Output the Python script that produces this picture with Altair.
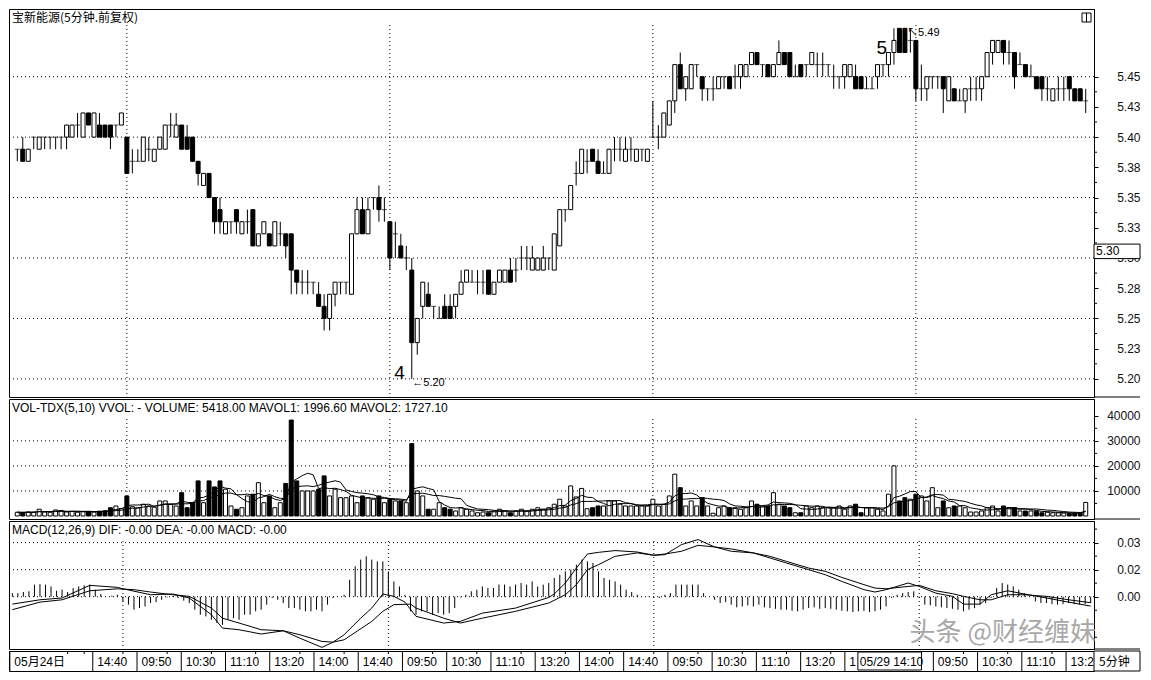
import altair as alt
import pandas as pd

# ---------------- data ----------------
opens = [
    5.39, 5.39, 5.38, 5.40, 5.39, 5.40, 5.40, 5.40, 5.40, 5.40,
    5.40, 5.41, 5.40, 5.42, 5.40, 5.41, 5.41, 5.41, 5.41, 5.41,
    5.40, 5.38, 5.38, 5.38, 5.39, 5.38, 5.39, 5.39, 5.41, 5.40,
    5.41, 5.40, 5.40, 5.38, 5.36, 5.37, 5.35, 5.34, 5.32, 5.33,
    5.34, 5.32, 5.33, 5.34, 5.31, 5.32, 5.32, 5.31, 5.32, 5.32,
    5.32, 5.29, 5.28, 5.28, 5.28, 5.27, 5.26, 5.25, 5.27, 5.28,
    5.28, 5.27, 5.32, 5.34, 5.32, 5.35, 5.35, 5.34, 5.33, 5.32,
    5.31, 5.30, 5.29, 5.23, 5.26, 5.27, 5.26, 5.25, 5.26, 5.26,
    5.26, 5.27, 5.28, 5.28, 5.28, 5.28, 5.29, 5.27, 5.28, 5.28,
    5.29, 5.29, 5.30, 5.30, 5.29, 5.29, 5.29, 5.30, 5.29, 5.31,
    5.34, 5.34, 5.37, 5.37, 5.38, 5.39, 5.38, 5.37, 5.37, 5.39,
    5.39, 5.38, 5.39, 5.38, 5.39, 5.38, 5.40, 5.40, 5.40, 5.41,
    5.43, 5.46, 5.44, 5.44, 5.46, 5.45, 5.44, 5.44, 5.44, 5.45,
    5.45, 5.45, 5.45, 5.45, 5.46, 5.47, 5.46, 5.46, 5.45, 5.46,
    5.47, 5.47, 5.45, 5.46, 5.46, 5.46, 5.46, 5.46, 5.46, 5.45,
    5.45, 5.45, 5.45, 5.45, 5.45, 5.44, 5.44, 5.45, 5.46, 5.46,
    5.47, 5.49, 5.49, 5.48, 5.48, 5.44, 5.44, 5.45, 5.45, 5.45,
    5.43, 5.44, 5.43, 5.43, 5.44, 5.44, 5.44, 5.45, 5.47, 5.47,
    5.48, 5.47, 5.47, 5.46, 5.46, 5.45, 5.45, 5.45, 5.44, 5.43,
    5.44, 5.44, 5.45, 5.44, 5.44, 5.43,
]
highs = [
    5.39, 5.40, 5.39, 5.40, 5.40, 5.40, 5.40, 5.40, 5.40, 5.41,
    5.41, 5.42, 5.42, 5.42, 5.42, 5.42, 5.41, 5.41, 5.41, 5.42,
    5.40, 5.39, 5.39, 5.40, 5.40, 5.39, 5.40, 5.41, 5.42, 5.42,
    5.41, 5.41, 5.40, 5.38, 5.37, 5.37, 5.35, 5.35, 5.33, 5.33,
    5.34, 5.33, 5.34, 5.34, 5.32, 5.33, 5.32, 5.33, 5.33, 5.32,
    5.32, 5.29, 5.29, 5.29, 5.28, 5.28, 5.27, 5.27, 5.28, 5.28,
    5.28, 5.32, 5.35, 5.35, 5.35, 5.35, 5.36, 5.35, 5.33, 5.33,
    5.32, 5.31, 5.30, 5.25, 5.28, 5.28, 5.26, 5.26, 5.27, 5.27,
    5.27, 5.29, 5.29, 5.29, 5.29, 5.29, 5.29, 5.28, 5.29, 5.29,
    5.30, 5.30, 5.31, 5.31, 5.31, 5.30, 5.31, 5.30, 5.32, 5.34,
    5.34, 5.36, 5.38, 5.39, 5.39, 5.39, 5.39, 5.38, 5.39, 5.40,
    5.40, 5.40, 5.40, 5.39, 5.39, 5.39, 5.43, 5.41, 5.42, 5.43,
    5.46, 5.47, 5.45, 5.46, 5.46, 5.45, 5.44, 5.45, 5.45, 5.45,
    5.45, 5.46, 5.46, 5.46, 5.47, 5.47, 5.46, 5.46, 5.46, 5.48,
    5.47, 5.47, 5.46, 5.46, 5.46, 5.47, 5.47, 5.47, 5.46, 5.46,
    5.45, 5.46, 5.46, 5.46, 5.45, 5.45, 5.45, 5.46, 5.46, 5.47,
    5.49, 5.49, 5.49, 5.49, 5.48, 5.46, 5.45, 5.45, 5.45, 5.45,
    5.45, 5.44, 5.44, 5.44, 5.45, 5.45, 5.45, 5.47, 5.48, 5.48,
    5.48, 5.48, 5.47, 5.47, 5.46, 5.46, 5.45, 5.45, 5.45, 5.44,
    5.45, 5.45, 5.45, 5.44, 5.44, 5.44,
]
lows = [
    5.38, 5.38, 5.38, 5.39, 5.39, 5.39, 5.39, 5.39, 5.39, 5.39,
    5.40, 5.40, 5.40, 5.41, 5.40, 5.40, 5.40, 5.39, 5.40, 5.41,
    5.37, 5.37, 5.38, 5.38, 5.38, 5.38, 5.39, 5.39, 5.40, 5.40,
    5.39, 5.39, 5.38, 5.36, 5.36, 5.35, 5.32, 5.32, 5.32, 5.32,
    5.32, 5.32, 5.32, 5.31, 5.31, 5.32, 5.31, 5.31, 5.31, 5.30,
    5.27, 5.27, 5.27, 5.27, 5.27, 5.26, 5.24, 5.24, 5.26, 5.27,
    5.27, 5.27, 5.32, 5.32, 5.32, 5.34, 5.33, 5.33, 5.29, 5.30,
    5.30, 5.29, 5.20, 5.22, 5.25, 5.26, 5.25, 5.25, 5.25, 5.25,
    5.25, 5.27, 5.28, 5.28, 5.27, 5.27, 5.27, 5.27, 5.28, 5.28,
    5.28, 5.28, 5.29, 5.29, 5.29, 5.29, 5.29, 5.29, 5.29, 5.31,
    5.33, 5.34, 5.36, 5.37, 5.37, 5.38, 5.37, 5.37, 5.37, 5.38,
    5.38, 5.38, 5.38, 5.38, 5.38, 5.38, 5.40, 5.39, 5.40, 5.41,
    5.42, 5.44, 5.43, 5.44, 5.45, 5.43, 5.43, 5.43, 5.44, 5.44,
    5.44, 5.44, 5.44, 5.45, 5.46, 5.46, 5.45, 5.45, 5.45, 5.46,
    5.46, 5.45, 5.45, 5.45, 5.45, 5.46, 5.45, 5.45, 5.45, 5.44,
    5.44, 5.44, 5.45, 5.44, 5.44, 5.44, 5.44, 5.44, 5.45, 5.45,
    5.46, 5.47, 5.47, 5.47, 5.43, 5.43, 5.43, 5.44, 5.44, 5.42,
    5.43, 5.43, 5.43, 5.42, 5.43, 5.43, 5.43, 5.45, 5.46, 5.47,
    5.46, 5.46, 5.44, 5.46, 5.45, 5.45, 5.44, 5.43, 5.43, 5.43,
    5.43, 5.43, 5.43, 5.43, 5.43, 5.42,
]
closes = [
    5.39, 5.38, 5.39, 5.40, 5.40, 5.40, 5.40, 5.40, 5.40, 5.41,
    5.41, 5.41, 5.42, 5.41, 5.42, 5.40, 5.40, 5.40, 5.41, 5.42,
    5.37, 5.38, 5.38, 5.40, 5.39, 5.39, 5.40, 5.41, 5.41, 5.41,
    5.39, 5.39, 5.38, 5.37, 5.37, 5.35, 5.33, 5.33, 5.33, 5.33,
    5.33, 5.33, 5.33, 5.31, 5.32, 5.33, 5.31, 5.33, 5.32, 5.31,
    5.29, 5.28, 5.28, 5.28, 5.28, 5.26, 5.25, 5.27, 5.28, 5.28,
    5.28, 5.32, 5.34, 5.32, 5.34, 5.35, 5.34, 5.34, 5.30, 5.32,
    5.30, 5.30, 5.23, 5.25, 5.28, 5.26, 5.26, 5.25, 5.25, 5.25,
    5.27, 5.28, 5.29, 5.28, 5.28, 5.28, 5.27, 5.28, 5.29, 5.29,
    5.28, 5.29, 5.30, 5.30, 5.30, 5.30, 5.30, 5.30, 5.32, 5.34,
    5.34, 5.36, 5.37, 5.39, 5.38, 5.38, 5.37, 5.37, 5.39, 5.39,
    5.39, 5.39, 5.39, 5.39, 5.39, 5.39, 5.40, 5.40, 5.42, 5.43,
    5.46, 5.44, 5.45, 5.46, 5.46, 5.44, 5.44, 5.44, 5.45, 5.45,
    5.44, 5.45, 5.46, 5.46, 5.47, 5.46, 5.46, 5.45, 5.46, 5.47,
    5.46, 5.45, 5.45, 5.45, 5.46, 5.47, 5.46, 5.46, 5.46, 5.45,
    5.45, 5.46, 5.46, 5.44, 5.44, 5.44, 5.44, 5.46, 5.46, 5.47,
    5.48, 5.47, 5.47, 5.48, 5.44, 5.44, 5.45, 5.45, 5.45, 5.44,
    5.45, 5.43, 5.43, 5.44, 5.44, 5.44, 5.45, 5.47, 5.48, 5.48,
    5.47, 5.47, 5.45, 5.46, 5.45, 5.45, 5.44, 5.44, 5.44, 5.44,
    5.44, 5.44, 5.44, 5.43, 5.43, 5.43,
]
volumes = [
    1500, 1400, 1600, 1500, 2700, 1600, 1500, 2400, 2200, 1600,
    1800, 1500, 1700, 1800, 1600, 1900, 2100, 3300, 4000, 3000,
    8000, 3700, 3200, 4700, 4000, 3500, 6000, 6000, 4600, 4000,
    9300, 3300, 5300, 14000, 5300, 14000, 11600, 14000, 10700, 4000,
    2700, 3300, 8000, 8700, 13300, 5300, 8000, 3300, 5300, 13000,
    38300, 14000, 10000, 10000, 10000, 10700, 16000, 8000, 10700, 7300,
    7300, 8000, 5300, 8000, 7300, 6700, 8000, 5300, 6700, 6000,
    6000, 5300, 28900, 10000, 8000, 2700, 2700, 5300, 3300, 2700,
    2000, 3300, 2700, 2000, 1300, 1600, 1300, 2000, 2700, 2000,
    1300, 2000, 2700, 2000, 2700, 3300, 2700, 3300, 4700, 6700,
    4000, 12000, 7600, 11000, 2900, 3300, 4000, 4000, 6000, 6000,
    4700, 4000, 4000, 4000, 4000, 4000, 6700, 4000, 4700, 8000,
    16700, 11300, 4000, 6000, 4000, 7300, 4000, 1100, 3300, 4000,
    3300, 3300, 2700, 3300, 6000, 4700, 4000, 4000, 9300, 4700,
    4000, 3300, 1300, 1300, 4000, 3300, 4000, 3300, 3300, 3300,
    4000, 2700, 4000, 4700, 1300, 3300, 3300, 2700, 2000, 8700,
    20000, 6000, 7300, 6700, 8700, 8000, 6000, 11300, 3300, 6000,
    3300, 4000, 4000, 3300, 1600, 1600, 2000, 3300, 4000, 2000,
    4000, 3300, 3300, 2000, 2000, 2000, 1900, 1300, 1500, 1300,
    1288, 1200, 1100, 1150, 1115, 5418,
]
macd_hist = [
    0.0020, 0.0020, 0.0026, 0.0030, 0.0067, 0.0070, 0.0067, 0.0057, 0.0033, 0.0039,
    0.0026, 0.0048, 0.0057, 0.0063, 0.0067, 0.0039, 0.0015, 0.0000, 0.0006, 0.0011,
    -0.0026, -0.0044, -0.0072, -0.0063, -0.0054, -0.0035, -0.0030, -0.0017, -0.0004, 0.0004,
    -0.0007, -0.0022, -0.0035, -0.0072, -0.0100, -0.0109, -0.0128, -0.0146, -0.0156, -0.0128,
    -0.0119, -0.0128, -0.0100, -0.0100, -0.0081, -0.0072, -0.0044, -0.0007, -0.0017, -0.0035,
    -0.0063, -0.0063, -0.0072, -0.0081, -0.0081, -0.0072, -0.0081, -0.0044, -0.0007, 0.0000,
    0.0011, 0.0094, 0.0169, 0.0206, 0.0224, 0.0206, 0.0196, 0.0196, 0.0141, 0.0085,
    0.0057, 0.0011, -0.0081, -0.0100, -0.0081, -0.0081, -0.0100, -0.0091, -0.0100, -0.0091,
    -0.0063, -0.0004, 0.0011, 0.0030, 0.0039, 0.0057, 0.0048, 0.0048, 0.0067, 0.0067,
    0.0057, 0.0067, 0.0076, 0.0067, 0.0085, 0.0057, 0.0067, 0.0076, 0.0104, 0.0122,
    0.0141, 0.0150, 0.0178, 0.0206, 0.0196, 0.0187, 0.0141, 0.0104, 0.0094, 0.0085,
    0.0067, 0.0039, 0.0026, 0.0011, 0.0000, 0.0002, -0.0004, -0.0007, 0.0011, 0.0020,
    0.0067, 0.0067, 0.0067, 0.0067, 0.0067, 0.0020, 0.0000, -0.0017, -0.0035, -0.0030,
    -0.0044, -0.0059, -0.0054, -0.0048, -0.0054, -0.0044, -0.0059, -0.0063, -0.0067, -0.0072,
    -0.0072, -0.0078, -0.0081, -0.0072, -0.0063, -0.0059, -0.0067, -0.0063, -0.0067, -0.0072,
    -0.0078, -0.0081, -0.0085, -0.0081, -0.0078, -0.0085, -0.0081, -0.0072, -0.0054, -0.0007,
    0.0011, 0.0020, 0.0026, 0.0030, -0.0007, -0.0044, -0.0048, -0.0054, -0.0059, -0.0063,
    -0.0067, -0.0072, -0.0081, -0.0072, -0.0063, -0.0044, -0.0035, -0.0007, 0.0048, 0.0076,
    0.0067, 0.0057, 0.0039, 0.0020, 0.0002, -0.0026, -0.0035, -0.0035, -0.0041, -0.0044,
    -0.0041, -0.0035, -0.0041, -0.0044, -0.0041, -0.0035,
]
dif_idx = [0, 5, 9, 14, 19, 20, 25, 29, 32, 36, 38, 41, 45, 49, 52, 56, 58, 60, 63, 65,
           67, 69, 71, 73, 78, 81, 85, 91, 97, 98, 100, 102, 104, 106, 109, 113, 116, 118,
           121, 124, 127, 130, 134, 137, 140, 144, 147, 150, 154, 156, 158, 162, 164, 167,
           170, 172, 175, 177, 180, 183, 187, 191, 195]
dif_val = [-0.0041, -0.0017, -0.0007, 0.0063, 0.0052, 0.0044, 0.0011, 0.0015, -0.0007, -0.0100,
           -0.0174, -0.0183, -0.0207, -0.0189, -0.0230, -0.0281, -0.0252, -0.0211, -0.0119, -0.0063,
           0.0015, 0.0002, -0.0030, -0.0109, -0.0146, -0.0137, -0.0091, -0.0063, -0.0004, 0.0015,
           0.0076, 0.0159, 0.0237, 0.0246, 0.0256, 0.0248, 0.0230, 0.0233, 0.0289, 0.0317,
           0.0276, 0.0252, 0.0243, 0.0215, 0.0187, 0.0150, 0.0122, 0.0085, 0.0039, 0.0026,
           0.0039, 0.0076, 0.0057, 0.0020, 0.0002, -0.0041, -0.0041, 0.0011, 0.0033, 0.0015,
           -0.0007, -0.0030, -0.0052]
dea_idx = [0, 5, 9, 14, 19, 22, 25, 29, 32, 36, 38, 41, 45, 49, 52, 56, 58, 60, 65, 67,
           69, 72, 73, 78, 81, 85, 91, 97, 100, 102, 104, 106, 109, 113, 116, 118, 121, 124,
           127, 130, 134, 137, 140, 144, 147, 150, 154, 156, 158, 162, 164, 167, 170, 172,
           175, 177, 180, 183, 187, 191, 195]
dea_val = [-0.0072, -0.0030, -0.0017, 0.0033, 0.0044, 0.0039, 0.0026, 0.0011, 0.0002, -0.0063,
           -0.0119, -0.0146, -0.0183, -0.0189, -0.0211, -0.0248, -0.0252, -0.0239, -0.0137, -0.0081,
           -0.0044, -0.0041, -0.0063, -0.0119, -0.0146, -0.0119, -0.0081, -0.0035, 0.0011, 0.0067,
           0.0150, 0.0178, 0.0224, 0.0243, 0.0230, 0.0237, 0.0252, 0.0285, 0.0276, 0.0265,
           0.0243, 0.0224, 0.0196, 0.0159, 0.0141, 0.0107, 0.0067, 0.0048, 0.0044, 0.0057,
           0.0063, 0.0033, 0.0017, 0.0002, -0.0017, -0.0017, 0.0011, 0.0011, 0.0002, -0.0017,
           -0.0033]

day_starts = [20, 68, 116, 164]
price_grid = [5.20, 5.25, 5.30, 5.35, 5.40, 5.45]
price_ticks = [5.20, 5.225, 5.25, 5.275, 5.30, 5.325, 5.35, 5.375, 5.40, 5.425, 5.45]
price_minor = [5.2125, 5.2375, 5.2625, 5.2875, 5.3125, 5.3375, 5.3625, 5.3875, 5.4125, 5.4375]
vol_grid = [10000, 20000, 30000]
vol_ticks = [10000, 20000, 30000, 40000]
vol_minor = [5000, 15000, 25000, 35000]
macd_grid = [0.0, 0.015, 0.03]
macd_ticks = [0.0, 0.015, 0.03]
macd_minor = [-0.0225, -0.0075, 0.0075, 0.0225, 0.0375]
# time labels; the 14:00 label at bar 151 is hidden by the cursor box except its "1"
xlabel_idx = [0, 15, 23, 31, 39, 47, 55, 63, 71, 79, 87, 95, 103, 111, 119, 127, 135, 143,
              151, 167, 175, 183, 191]
xlabel_txt = ["05月24日", "14:40", "09:50", "10:30", "11:10", "13:20", "14:00", "14:40",
              "09:50", "10:30", "11:10", "13:20", "14:00", "14:40", "09:50", "10:30",
              "11:10", "13:20", "1", "09:50", "10:30", "11:10", "13:20"]
xminor_idx = [10, 13, 20, 28, 36, 44, 52, 60, 68, 76, 84, 92, 100, 108, 116, 124, 132,
              140, 148, 156, 164, 172, 180, 188]
cursor_label = "05/29 14:10"
ann_x = [68.8, 72.1, 156.8, 162.4]
ann_y = [5.2048, 5.1968, 5.4738, 5.4865]
ann_t = ["4", "←5.20", "5", "↖5.49"]
ann_fs = [19, 11, 19, 11]

# ---------------- layout ----------------
W = 1085
HP, HV, HM, HA = 388, 120, 128, 20
FONT = "Liberation Sans"
CJK = "Noto Sans CJK SC"
MIX = "Liberation Sans, Noto Sans CJK SC"
DOT = [1, 3]

xs = alt.Scale(domain=[-0.6, 195.6], nice=False, zero=False)


def X(f):
    return alt.X(f, scale=xs, axis=None)


n = len(opens)
df = pd.DataFrame({"i": list(range(n)), "o": opens, "h": highs, "l": lows,
                   "c": closes, "v": volumes, "m": macd_hist})
df["fillc"] = ["#000000" if c < o else "#ffffff" for o, c in zip(opens, closes)]
df["blo"] = [min(o, c) for o, c in zip(opens, closes)]
df["bhi"] = [max(o, c) for o, c in zip(opens, closes)]
df["zero"] = 0.0
df["ma5"] = df["v"].rolling(5, min_periods=1).mean()
df["ma10"] = df["v"].rolling(10, min_periods=1).mean()
bodies = df[df["o"] != df["c"]]
dojis = df[df["o"] == df["c"]]
one = pd.DataFrame({"k": [0]})
days_df = pd.DataFrame({"d": day_starts})


def minor_ticks(vals, Yf):
    return alt.Chart(pd.DataFrame({"y": vals})).mark_rule(color="#000").encode(
        y=Yf("y:Q"), x=alt.value(W), x2=alt.value(W + 3))


def title_text(txt, font):
    return alt.Chart(one).mark_text(text=txt, align="left", baseline="middle", font=font,
                                    fontSize=12, color="#000").encode(
        x=alt.value(3), y=alt.value(9))


def hgrid(vals, Yf):
    return alt.Chart(pd.DataFrame({"y": vals})).mark_rule(
        color="#000", strokeDash=DOT, strokeWidth=1).encode(
        y=Yf("y:Q"), x=alt.value(0), x2=alt.value(W))


def vgrid(top, h):
    return alt.Chart(days_df).mark_rule(color="#000", strokeDash=DOT, strokeWidth=1).encode(
        x=X("d:Q"), y=alt.value(top), y2=alt.value(h))


def edge_rule(h):
    return alt.Chart(one).mark_rule(color="#000").encode(
        x=alt.value(W), x2=alt.value(W + 46), y=alt.value(h))


# ---------------- price panel ----------------
pscale = alt.Scale(domain=[5.185, 5.506], nice=False, zero=False)
paxis = alt.Axis(orient="right", values=price_ticks,
                 labelExpr="format(datum.value + 0.0001, '.2f')",
                 title=None, grid=False, tickSize=4, labelPadding=42, labelAlign="right")


def PY(f):
    return alt.Y(f, scale=pscale, axis=paxis)


wick = alt.Chart(df).mark_rule(color="#000", strokeWidth=1).encode(
    x=X("i:Q"), y=PY("l:Q"), y2="h:Q")
body = alt.Chart(bodies).mark_bar(size=4, stroke="#000", strokeWidth=1).encode(
    x=X("i:Q"), y=PY("blo:Q"), y2="bhi:Q", fill=alt.Fill("fillc:N", scale=None))
doji = alt.Chart(dojis).mark_tick(orient="horizontal", size=5, thickness=1, color="#000").encode(
    x=X("i:Q"), y=PY("o:Q"))
ann = alt.Chart(pd.DataFrame({"x": ann_x, "y": ann_y, "t": ann_t, "fs": ann_fs})).mark_text(
    align="left", baseline="middle", font=MIX, color="#000").encode(
    x=X("x:Q"), y=PY("y:Q"), text="t:N", size=alt.Size("fs:Q", scale=None))
cur = pd.DataFrame({"y1": [5.3115], "y2": [5.2995], "ym": [5.3057], "t": ["5.30"]})
cur_box = alt.Chart(cur).mark_rect(fill="#ffffff", stroke="#000", strokeWidth=1).encode(
    x=alt.value(W), x2=alt.value(W + 46), y=PY("y1:Q"), y2="y2:Q")
cur_txt = alt.Chart(cur).mark_text(align="left", baseline="middle", font=FONT, fontSize=12,
                                   color="#000").encode(
    x=alt.value(W + 2), y=PY("ym:Q"), text="t:N")
icon_box = alt.Chart(one).mark_rect(fill="#ffffff", stroke="#000", strokeWidth=1).encode(
    x=alt.value(W - 12), x2=alt.value(W - 3), y=alt.value(4), y2=alt.value(13))
icon_mid = alt.Chart(one).mark_rule(color="#000").encode(
    x=alt.value(W - 7.5), y=alt.value(4), y2=alt.value(13))

price = alt.layer(
    hgrid(price_grid, PY), vgrid(16, HP), wick, body, doji, ann,
    title_text("宝新能源(5分钟.前复权)", CJK), minor_ticks(price_minor, PY),
    cur_box, cur_txt, icon_box, icon_mid, edge_rule(HP)
).properties(width=W, height=HP)

# ---------------- volume panel ----------------
vscale = alt.Scale(domain=[-1200, 46700], nice=False, zero=False)
vaxis = alt.Axis(orient="right", values=vol_ticks, format="d", title=None, grid=False,
                 tickSize=4, labelPadding=42, labelAlign="right")


def VY(f):
    return alt.Y(f, scale=vscale, axis=vaxis)


vbars = alt.Chart(df).mark_bar(size=4, stroke="#000", strokeWidth=1).encode(
    x=X("i:Q"), y=VY("v:Q"), y2="zero:Q", fill=alt.Fill("fillc:N", scale=None))
vma5 = alt.Chart(df).mark_line(color="#000", strokeWidth=1).encode(x=X("i:Q"), y=VY("ma5:Q"))
vma10 = alt.Chart(df).mark_line(color="#000", strokeWidth=1).encode(x=X("i:Q"), y=VY("ma10:Q"))
vol_title = ("VOL-TDX(5,10) VVOL: -   VOLUME: %.2f  MAVOL1: %.2f  MAVOL2: %.2f"
             % (volumes[-1], df["ma5"].iloc[-1], df["ma10"].iloc[-1]))
vol = alt.layer(
    hgrid(vol_grid, VY), vgrid(20, HV), vbars, vma10, vma5,
    title_text(vol_title, FONT), minor_ticks(vol_minor, VY), edge_rule(HV)
).properties(width=W, height=HV)

# ---------------- MACD panel ----------------
mscale = alt.Scale(domain=[-0.029, 0.042], nice=False, zero=False)
maxis = alt.Axis(orient="right", values=macd_ticks,
                 labelExpr="format(datum.value + 0.0001, '.2f')",
                 title=None, grid=False, tickSize=4, labelPadding=42, labelAlign="right")


def MY(f):
    return alt.Y(f, scale=mscale, axis=maxis)


mhist = alt.Chart(df).mark_rule(color="#000", strokeWidth=1).encode(
    x=X("i:Q"), y=MY("zero:Q"), y2="m:Q")
mdif = alt.Chart(pd.DataFrame({"i": dif_idx, "v": dif_val})).mark_line(
    color="#000", strokeWidth=1).encode(x=X("i:Q"), y=MY("v:Q"))
mdea = alt.Chart(pd.DataFrame({"i": dea_idx, "v": dea_val})).mark_line(
    color="#000", strokeWidth=1).encode(x=X("i:Q"), y=MY("v:Q"))
wm = alt.Chart(one).mark_text(text="头条 @财经缠妹", align="right", baseline="middle", font=CJK,
                              fontSize=26, color="#a8a8a8").encode(
    x=alt.value(W + 2), y=alt.value(HM - 16))
macd = alt.layer(
    hgrid(macd_grid, MY), vgrid(20, HM), mhist, mdif, mdea,
    title_text("MACD(12,26,9) DIF: -0.00 DEA: -0.00 MACD: -0.00", FONT),
    minor_ticks(macd_minor, MY), wm, edge_rule(HM)
).properties(width=W, height=HM)

# ---------------- time axis row ----------------
lab = pd.DataFrame({"i": xlabel_idx, "t": xlabel_txt})
lab["s"] = [v - 0.45 for v in xlabel_idx]
a_sep = alt.Chart(lab).mark_rule(color="#000").encode(
    x=X("s:Q"), y=alt.value(0), y2=alt.value(HA))
a_txt = alt.Chart(lab).mark_text(align="left", baseline="middle", dx=2, font=MIX, fontSize=12,
                                 color="#000", clip=True).encode(
    x=X("i:Q"), y=alt.value(HA / 2 + 1), text="t:N")
a_min = alt.Chart(pd.DataFrame({"i": xminor_idx})).mark_rule(color="#000").encode(
    x=X("i:Q"), y=alt.value(0), y2=alt.value(3))
cursor = pd.DataFrame({"a": [152.9], "b": [164.4], "t": [cursor_label]})
c_box = alt.Chart(cursor).mark_rect(fill="#ffffff", stroke="#000", strokeWidth=1).encode(
    x=X("a:Q"), x2="b:Q", y=alt.value(1), y2=alt.value(HA - 1))
c_txt = alt.Chart(cursor).mark_text(align="left", baseline="middle", dx=2, font=FONT,
                                    fontSize=12, color="#000").encode(
    x=X("a:Q"), y=alt.value(HA / 2 + 1), text="t:N")
unit_box = alt.Chart(one).mark_rect(fill="#ffffff", stroke="#000", strokeWidth=1).encode(
    x=alt.value(W), x2=alt.value(W + 46), y=alt.value(0), y2=alt.value(HA))
unit_txt = alt.Chart(one).mark_text(text="5分钟", align="left", baseline="middle", font=CJK,
                                    fontSize=12, color="#000").encode(
    x=alt.value(W + 5), y=alt.value(HA / 2 + 1))
axisrow = alt.layer(a_sep, a_min, a_txt, c_box, c_txt, unit_box, unit_txt).properties(
    width=W, height=HA)

chart = alt.vconcat(price, vol, macd, axisrow, spacing=0).properties(
    padding=0
).configure_view(
    stroke="#000", strokeWidth=1
).configure_axis(
    labelFont=FONT, labelFontSize=12, labelColor="#111", domainColor="#000",
    tickColor="#000", domainWidth=1
)

chart.save("out.html", embed_options={"renderer": "svg", "actions": False})
